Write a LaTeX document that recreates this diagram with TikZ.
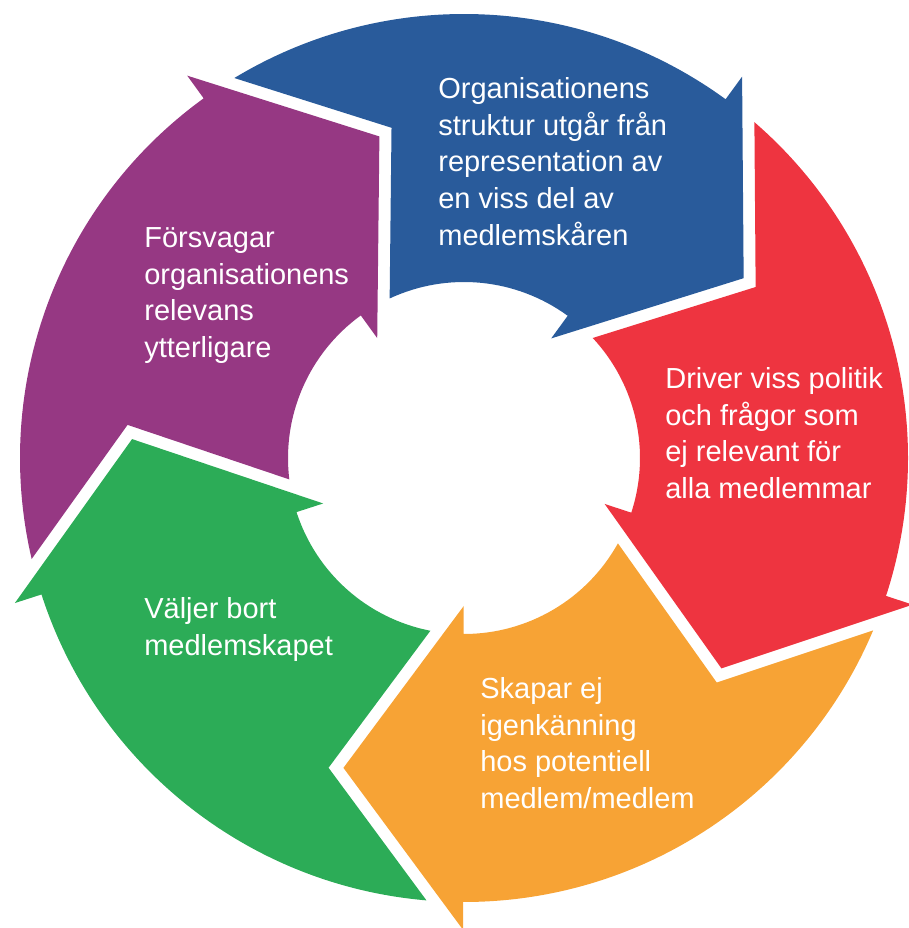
\documentclass[tikz,border=0pt]{standalone}
\usepackage{fontspec}
\setmainfont{Liberation Sans}
\definecolor{segblue}{RGB}{41,91,155}
\definecolor{segred}{RGB}{238,52,64}
\definecolor{segorange}{RGB}{247,163,53}
\definecolor{seggreen}{RGB}{44,172,87}
\definecolor{segpurple}{RGB}{150,56,131}
\begin{document}
\begin{tikzpicture}[
  x=0.02cm, y=0.02cm,
  segment/.style={fill=#1, draw=none},
  segtext/.style={anchor=north west, align=left, inner sep=0pt, text=white,
    font=\fontsize{16.5pt}{20.9pt}\selectfont}
]
  \useasboundingbox (-464,-470) rectangle (444,458);

  % Blått segment
  \begin{scope}[rotate=53.9]
    \fill[segment=segblue] (67.25:444) arc[start angle=67.25, end angle=0, radius=444]
      -- (0:472) -- (-21.16:332.5) -- (0:148) -- (0:176)
      arc[start angle=0, end angle=61.09, radius=176] -- (48.48:338.1) -- cycle;
  \end{scope}
  \node[segtext] (struktur) at (-26,381)
    {Organisationens\\struktur utgår från\\representation av\\en viss del av\\medlemskåren};

  % Rött segment
  \begin{scope}[rotate=-18.1]
    \fill[segment=segred] (67.25:444) arc[start angle=67.25, end angle=0, radius=444]
      -- (0:472) -- (-21.16:332.5) -- (0:148) -- (0:176)
      arc[start angle=0, end angle=61.09, radius=176] -- (48.48:338.1) -- cycle;
  \end{scope}
  \node[segtext] (politik) at (201,91)
    {Driver viss politik\\och frågor som\\ej relevant för\\alla medlemmar};

  % Orange segment
  \begin{scope}[rotate=-90.1]
    \fill[segment=segorange] (67.25:444) arc[start angle=67.25, end angle=0, radius=444]
      -- (0:472) -- (-21.16:332.5) -- (0:148) -- (0:176)
      arc[start angle=0, end angle=61.09, radius=176] -- (48.48:338.1) -- cycle;
  \end{scope}
  \node[segtext] (igenkanning) at (16,-219)
    {Skapar ej\\igenkänning\\hos potentiell\\medlem/medlem};

  % Grönt segment
  \begin{scope}[rotate=197.9]
    \fill[segment=seggreen] (67.25:444) arc[start angle=67.25, end angle=0, radius=444]
      -- (0:472) -- (-21.16:332.5) -- (0:148) -- (0:176)
      arc[start angle=0, end angle=61.09, radius=176] -- (48.48:338.1) -- cycle;
  \end{scope}
  \node[segtext] (valjer) at (-320,-139)
    {Väljer bort\\medlemskapet};

  % Lila segment
  \begin{scope}[rotate=125.9]
    \fill[segment=segpurple] (67.25:444) arc[start angle=67.25, end angle=0, radius=444]
      -- (0:472) -- (-21.16:332.5) -- (0:148) -- (0:176)
      arc[start angle=0, end angle=61.09, radius=176] -- (48.48:338.1) -- cycle;
  \end{scope}
  \node[segtext] (relevans) at (-320,231)
    {Försvagar\\organisationens\\relevans\\ytterligare};
\end{tikzpicture}
\end{document}
